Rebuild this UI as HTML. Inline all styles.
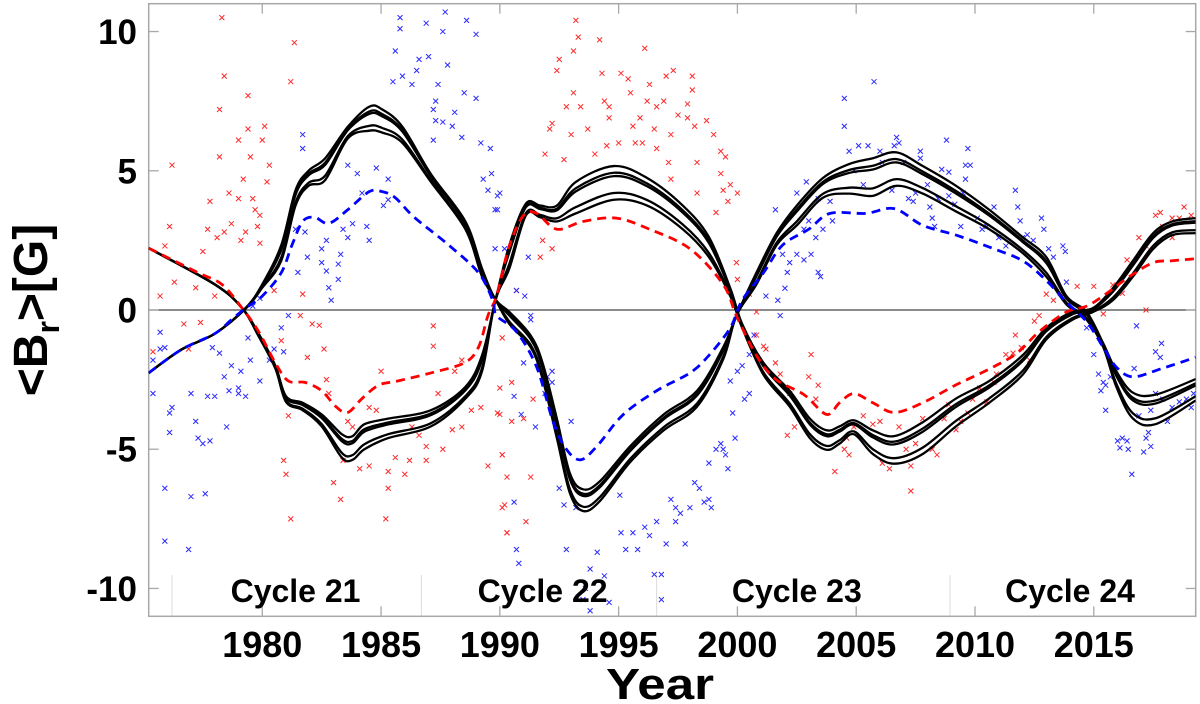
<!DOCTYPE html>
<html><head><meta charset="utf-8"><style>
html,body{margin:0;padding:0;background:#fff;width:1200px;height:704px;overflow:hidden}
svg{display:block}
text{font-family:"Liberation Sans",Arial,sans-serif;font-weight:bold;fill:#000}
</style></head><body>
<svg id="chart" width="1200" height="704" viewBox="0 0 1200 704">
  <defs><clipPath id="plotclip"><rect x="148.7" y="3.7" width="1047" height="612.6"/></clipPath></defs>
  <g id="seps"></g>
  <g id="grid"></g>
  <g id="scatter" clip-path="url(#plotclip)"></g>
  <g id="lines" clip-path="url(#plotclip)"></g>
  <g id="labels"></g>
  <text x="660" y="699" font-size="44" text-anchor="middle" textLength="108" lengthAdjust="spacingAndGlyphs">Year</text>
  <text transform="translate(47,310) rotate(-90)" font-size="48" text-anchor="middle">&lt;B<tspan font-size="32" dy="12">r</tspan><tspan dy="-12">&gt;[G]</tspan></text>
</svg>
<script>
const xTicks=[1980,1985,1990,1995,2000,2005,2010,2015];
const yTicks=[10,5,0,-5,-10];
const cycleNames=["Cycle 21","Cycle 22","Cycle 23","Cycle 24"];
const cycleCenters=[1981.4,1991.8,2002.5,2014.0];
const cycleBounds=[1976.2,1986.7,1996.6,2008.95];
const redDash=[[1975.22,2.22],[1977.3,1.34],[1978.3,0.92],[1979.15,0.07],[1979.85,-0.78],[1980.55,-1.9],[1981.1,-2.55],[1981.8,-2.6],[1982.5,-2.9],[1983.1,-3.47],[1983.6,-3.68],[1984.2,-3.18],[1984.9,-2.7],[1985.7,-2.55],[1987.1,-2.26],[1988.5,-1.9],[1989.1,-1.34],[1989.5,-0.2],[1989.86,0.5],[1990.4,2.3],[1991.0,3.4],[1991.55,3.47],[1992.4,2.9],[1993.5,3.18],[1994.9,3.3],[1996.3,2.9],[1998.0,2.2],[1999.4,0.92],[1999.96,-0.21],[2000.8,-1.63],[2001.6,-2.48],[2002.8,-3.04],[2003.75,-3.75],[2004.3,-3.33],[2004.9,-3.0],[2005.7,-3.33],[2006.6,-3.68],[2007.8,-3.33],[2009.2,-2.69],[2010.6,-2.12],[2011.75,-1.56],[2012.7,-0.78],[2013.85,-0.07],[2014.7,0.14],[2015.5,0.57],[2016.5,1.2],[2017.5,1.7],[2018.3,1.77],[2019.29,1.84]];
const blueDash=[[1975.22,-2.26],[1976.6,-1.42],[1978.0,-0.85],[1978.7,-0.35],[1979.3,0.07],[1980.0,0.5],[1980.8,1.34],[1981.25,2.33],[1981.7,3.18],[1982.2,3.33],[1982.8,3.11],[1983.6,3.6],[1984.5,4.25],[1985.05,4.25],[1985.6,4.03],[1986.4,3.33],[1987.85,2.33],[1989.1,1.34],[1989.7,0.35],[1989.86,-0.2],[1990.7,-0.78],[1991.55,-2.05],[1992.25,-4.03],[1992.8,-5.0],[1993.4,-5.38],[1994.1,-4.88],[1995.2,-3.75],[1996.6,-2.9],[1998.0,-2.26],[1998.8,-1.63],[1999.7,-0.64],[2000.2,0.35],[2001.1,1.34],[2001.9,2.33],[2003.0,2.9],[2003.9,3.47],[2005.4,3.47],[2006.6,3.64],[2007.8,3.04],[2009.2,2.69],[2010.6,2.26],[2012.0,1.77],[2013.0,1.06],[2013.85,0.28],[2014.7,-0.42],[2015.4,-1.34],[2015.95,-2.05],[2016.65,-2.4],[2017.8,-2.12],[2019.29,-1.7]];
const famA=[[1975.22,-2.26,-2.26],[1976.6,-1.42,-1.42],[1978.0,-0.85,-0.85],[1979.3,0.07,0.05],[1980.0,0.92,0.8],[1980.8,2.33,1.77],[1981.4,4.3,3.75],[1981.95,5.0,4.46],[1982.65,5.45,4.67],[1983.6,6.58,6.16],[1984.5,7.3,6.44],[1985.05,7.2,6.37],[1985.9,6.58,6.0],[1987.1,4.88,4.6],[1988.55,3.18,2.9],[1989.25,1.49,1.2],[1989.8,0.4,0.4],[1990.4,-0.07,-0.5],[1991.3,-0.92,-1.34],[1991.8,-1.9,-2.48],[1992.4,-3.9,-4.6],[1992.95,-5.87,-6.58],[1993.5,-6.44,-7.22],[1994.2,-6.16,-6.87],[1995.5,-4.88,-5.45],[1996.9,-3.75,-4.32],[1998.3,-2.9,-3.47],[1999.4,-1.34,-1.77],[1999.96,-0.2,-0.2],[2000.8,1.34,0.92],[2001.65,2.76,2.33],[2002.5,3.75,3.04],[2003.6,4.74,4.03],[2004.7,5.24,4.18],[2005.7,5.45,4.1],[2006.7,5.66,4.46],[2007.8,5.17,4.18],[2009.2,4.46,3.54],[2010.6,3.6,2.9],[2012.0,2.62,2.05],[2013.0,1.9,1.2],[2013.85,0.5,0.2],[2014.7,-0.07,-0.35],[2015.4,-1.2,-1.34],[2015.95,-2.2,-2.76],[2016.65,-2.97,-3.9],[2017.6,-3.04,-4.1],[2019.29,-2.48,-3.25]];
const famB=[[1975.22,2.22,2.22],[1978.0,0.92,0.92],[1979.15,0.07,0.07],[1979.85,-0.85,-0.95],[1980.55,-2.0,-2.1],[1981.0,-3.1,-3.3],[1981.7,-3.33,-3.6],[1982.5,-3.75,-4.18],[1983.35,-4.46,-5.3],[1983.8,-4.53,-5.38],[1984.3,-4.1,-5.0],[1985.3,-3.9,-4.6],[1987.1,-3.6,-4.18],[1988.55,-2.76,-3.18],[1989.25,-1.63,-2.2],[1989.8,0.3,0.3],[1990.4,2.33,1.49],[1991.1,3.82,3.4],[1991.7,3.75,3.33],[1992.4,3.75,3.18],[1993.2,4.6,3.47],[1994.8,5.17,3.96],[1996.2,4.74,3.75],[1997.7,3.75,2.9],[1998.8,2.62,1.9],[1999.7,0.78,0.5],[2000.2,-0.5,-0.64],[2001.1,-1.9,-2.33],[2002.2,-2.9,-3.47],[2003.05,-3.9,-4.6],[2003.75,-4.32,-5.02],[2004.3,-4.18,-4.8],[2004.9,-3.96,-4.46],[2005.7,-4.32,-5.17],[2006.6,-4.53,-5.52],[2007.8,-4.03,-5.17],[2009.2,-3.18,-4.18],[2010.6,-2.55,-3.33],[2012.0,-1.63,-2.33],[2013.0,-0.64,-1.06],[2014.1,-0.07,-0.35],[2014.97,0.07,-0.07],[2015.8,0.78,0.35],[2016.65,1.77,1.2],[2017.5,2.76,2.19],[2018.3,3.18,2.69],[2019.29,3.3,2.76]];
const memberWeights=[0,0.2,0.3,0.8,1];
const redPts=[[1978.3,10.5],[1978.4,8.4],[1981.35,9.6],[1981.2,8.2],[1978.2,7.2],[1979.4,7.7],[1979.4,6.5],[1980.1,6.6],[1979,6.1],[1980,6.1],[1978.2,5.5],[1979.5,5.5],[1980.3,5.2],[1976.2,5.2],[1979.2,4.7],[1980.2,4.6],[1978.6,4.2],[1979,4.0],[1979.6,4.0],[1977.8,3.9],[1979.7,3.6],[1979.9,3.4],[1978.7,3.1],[1976.1,3.0],[1978.4,2.8],[1977.7,2.9],[1979.3,2.8],[1979.8,3.0],[1978.1,2.6],[1979.1,2.5],[1979.9,2.4],[1975.9,2.3],[1977.5,2.1],[1976.3,1.0],[1975.7,0.5],[1976.7,-0.5],[1977.4,-0.45],[1975.4,-1.5],[1976.9,-1.4],[1978,0.5],[1977.2,0.8],[1980.5,0.7],[1981.7,0.57],[1981.6,-0.2],[1982.1,-0.5],[1982.4,-0.55],[1982.6,-1.4],[1981.9,-1.7],[1980.8,-1.1],[1981.1,-3.8],[1982.7,-2.5],[1982.8,-3.0],[1983.6,-4.0],[1983.8,-4.2],[1984.5,-3.5],[1984.8,-3.6],[1985.0,-2.2],[1980.9,-5.4],[1981,-5.9],[1983,-6.2],[1983.3,-6.8],[1981.2,-7.5],[1985.2,-7.5],[1983.4,-5.4],[1984.1,-5.7],[1984.5,-5.6],[1985.3,-5.8],[1985.6,-5.3],[1986,-5.9],[1986.2,-5.4],[1985.3,-6.4],[1986.9,-5.4],[1987.2,-1.3],[1987.2,-0.57],[1987.4,-3.0],[1987.6,-5.0],[1988,-4.3],[1988.4,-4.2],[1988.8,-3.6],[1989.2,-3.5],[1989.5,-5.6],[1989.9,-3.7],[1990.1,-5.2],[1990.2,-7.0],[1990.3,-8.0],[1988.1,-2.2],[1988.4,-1.8],[1986.3,-4.2],[1986.6,-4.5],[1986.9,-4.9],
[1993.2,10.4],[1993.3,9.8],[1994.2,9.7],[1993.1,9.3],[1996.1,9.4],[1992.5,9.0],[1992.4,8.6],[1994.3,8.5],[1995.1,8.5],[1995.4,8.3],[1997.3,8.6],[1997,8.4],[1998.1,8.4],[1996.3,8.1],[1998.1,7.9],[1993.1,7.8],[1995.5,7.8],[1994.4,7.5],[1992.8,7.3],[1993.4,7.3],[1994.6,7.3],[1996.2,7.5],[1996.6,7.3],[1996.9,7.5],[1997.9,7.4],[1997.5,7.0],[1995.9,6.9],[1994.6,6.9],[1993.7,6.5],[1995.6,6.6],[1996.5,6.5],[1997.9,6.9],[1998.7,6.8],[1998.2,6.6],[1992.2,6.7],[1997.2,6.3],[1993,6.3],[1999,6.3],[1992.1,6.5],[1991.9,5.6],[1994,5.6],[1994.5,5.9],[1995,6.0],[1995.7,6.0],[1996,6.0],[1996.6,5.8],[1992.7,5.4],[1997.1,5.3],[1998.3,5.3],[1999.3,5.7],[1999.5,5.5],[1999.3,4.9],[1997.2,4.7],[1998.3,4.2],[1999.4,4.3],[1999.7,4.5],[2000,4.2],[1999.1,3.5],[1999.6,3.9],[1991.8,2.5],[1991.7,1.9],[1992.2,2.2],[1999.96,1.7],[2000,1.1],[2000.5,0.57],[1990.1,-1.0],[1990,-2.8],[1990.5,-2.6],[1990,-3.75],[1990.5,-4.0],[1991,-3.9],[1991.4,-3.2],[1990.1,-5.2],[1990.3,-6.0],[1991.3,-6.0],[1990.1,-7.1],[1991.1,-7.6],[1990.3,-8.0],[1990.7,0.7],[2000.8,-0.07],[2000.8,-0.9],[2001.1,-1.3],[2001.2,-1.4],[2000.9,-1.8],[2001.6,-1.9],[2001.8,-2.3],[2002.2,-3.0],[2003,-2.4],[2003.1,-1.6],[2003.4,-2.7],[2003.3,-3.2],[2002.1,-4.5],[2002.4,-4.2],[2004.1,-5.8],[2004.6,-4.6],[2004.7,-5.2],
[2004.9,-4.2],[2005.3,-3.8],[2005.7,-4.1],[2006,-4.0],[2004.5,-5.0],[2006.1,-5.5],[2006.4,-5.7],[2006.8,-4.2],[2007.1,-5.0],[2007.3,-5.6],[2007.3,-6.5],[2007.5,-4.8],[2007.8,-3.9],[2008.2,-5.0],[2008.4,-5.2],[2008.7,-3.9],[2008.9,-3.4],[2009.2,-4.3],[2009.4,-4.0],[2009.7,-3.7],[2009.9,-3.2],[2010.2,-2.8],[2010.5,-3.3],[2010.8,-2.6],[2010.9,-2.3],[2011.3,-1.6],[2011.6,-1.55],[2011.7,-0.9],[2011.95,-1.35],[2012.3,-1.8],[2012.5,-0.4],[2012.7,-0.2],[2013,0.57],[2013.3,0.35],[2013.6,0.6],[2014.3,0.85],[2015,0.85],[2015.4,-0.14],[2015.8,0.9],[2016.2,0.6],[2016.4,1.8],[2016.9,2.6],[2017.2,0],[2017.6,3.4],[2017.8,3.5],[2018.3,3.3],[2018.6,3.3],[2018.8,3.7],[2019.1,3.4],[2018.3,2.6],[2017.9,3.0],[2017.2,2.3]];
const bluePts=[[1985.8,10.5],[1985.8,10.1],[1987.7,10.7],[1986.9,10.3],[1988.6,10.4],[1987.6,10.0],[1989,9.9],[1985.6,9.3],[1986.6,9.0],[1987,9.1],[1987.8,8.8],[1985.9,8.4],[1985.5,8.2],[1986.3,8.1],[1986.5,8.6],[1987.4,8.1],[1988.5,7.8],[1987.3,7.5],[1989,7.6],[1987.2,7.2],[1988.1,7.1],[1987.3,6.8],[1987.6,6.75],[1988,6.6],[1988.4,6.2],[1987.2,6.1],[1989.2,6.0],[1989.6,5.8],[1981.7,6.3],[1981.7,5.8],[1983.6,5.2],[1984,4.9],[1984.8,5.1],[1985.3,4.7],[1989.3,4.7],[1989.5,4.3],[1990,4.2],[1989.9,3.6],[1984.2,4.2],[1985.1,3.75],[1985.3,3.96],[1981.4,2.9],[1981.8,2.8],[1982.7,2.5],[1983.4,2.9],[1983.8,3.1],[1984.4,3.0],[1984.5,2.5],[1983.6,2.6],[1981.9,1.9],[1982.5,1.7],[1983.3,2.0],[1983.2,1.65],[1982.7,1.4],[1983.2,1.1],[1982.8,0.8],[1982.9,0.35],[1981.5,1.35],[1982.5,2.2],[1979.9,0.42],[1979.6,0.14],[1981.1,-0.2],[1980.8,-0.64],[1980.9,-1.5],[1980.5,-1.4],[1980.3,-1.8],[1979.4,-1.0],[1979.5,-1.8],[1979.1,-2.2],[1978.7,-2.0],[1978.2,-1.55],[1977.9,-1.35],[1979,-2.8],[1979,-3.0],[1979.3,-3.1],[1978.6,-2.9],[1978.4,-2.4],[1979.9,-2.55],[1975.7,-0.8],[1975.7,-1.4],[1975.9,-1.35],[1975.4,-1.8],[1975.4,-3.0],[1977,-3.0],[1977.7,-3.1],[1978,-3.1],[1978.5,-4.2],[1976.2,-3.5],[1976.1,-3.7],[1976.1,-4.4],[1977.2,-4.0],[1977.3,-4.6],[1977.5,-4.8],[1977.8,-4.7],[1975.9,-6.4],[1977,-6.7],[1977.6,-6.6],[1975.9,-8.3],[1976.9,-8.6],
[1989.65,4.9],[1989.9,4.1],[1989.8,3.6],[1989.8,2.2],[1990.2,2.2],[1991.2,1.9],[1990.7,0.7],[1991.05,0.5],[1991.3,-0.2],[1991.3,-0.35],[1991,-1.9],[1992.2,-2.2],[1992,-2.4],[1992.2,-2.6],[1990.6,-3.1],[1990.9,-3.75],[1991.5,-4.2],[1991.9,-3.0],[1993,-4.0],[1992.5,-6.4],[1992.7,-7.0],[1993.2,-7.1],[1995.05,-6.65],[1992.8,-8.6],[1990.7,-8.6],[1990.8,-9.1],[1990.6,-6.9],[1994.1,-8.7],[1993.8,-9.3],[1994.4,-9.55],[1993.6,-10],[1993.5,-10.4],[1994.6,-10.5],[1993.8,-10.8],[1995.1,-8.0],[1995.3,-8.6],[1995.6,-8.0],[1995.8,-8.6],[1996.1,-7.8],[1996.3,-8.1],[1996.6,-7.6],[1997,-8.4],[1996.5,-9.5],[1996.8,-9.5],[1996.8,-10.4],[1997.2,-6.8],[1997.4,-7.1],[1997.6,-7.3],[1998,-7.1],[1997.4,-7.6],[1997.8,-8.4],[1998.2,-6.2],[1998.4,-6.4],[1998.6,-6.9],[1998.8,-6.8],[1998.9,-7.1],[1998.8,-5.5],[1999.1,-5.0],[1999.4,-5.0],[1999.5,-5.2],[1999.6,-5.7],[1999.9,-4.6],[1999.3,-4.8],[1999.8,-3.7],[2000.5,-3.0],[2000.3,-3.2],[1999.7,-2.55],[2000,-2.2],[2000.2,-2.0],[2000.5,-1.6],[2000.7,-0.9],[2001.2,0.5],[2001.8,-0.2],[2001.7,0.35],[2002,0.78],[2001.9,2.0],[2002.2,1.7],[2002.1,1.35],[2002.5,2.0],[2002.8,1.8],[2003.1,2.0],[2003.4,1.35],[2003.5,1.2],[2003.3,2.6],[2002.8,2.9],[2003,3.2],[2003.6,2.9],[2004,3.2],[2003.9,3.9],[2003.4,4.0],[2002.5,4.2],[2002.9,4.6],[2001.6,3.6],[2004.5,7.6],[2004.5,6.6],[2004.7,5.7],
[2005.75,8.2],[2004.9,5.0],[2005.1,5.9],[2005.5,5.9],[2005.3,4.5],[2006,5.7],[2006.1,5.3],[2006.6,5.9],[2006.7,6.2],[2006.8,6.0],[2006.5,4.3],[2007,5.3],[2007.2,4.0],[2007.4,3.9],[2007.5,4.2],[2007.7,5.7],[2007.7,5.45],[2008,4.5],[2008.1,3.7],[2008.3,3.0],[2008.2,3.3],[2008.45,4.0],[2008.6,5.05],[2008.8,6.1],[2008.9,4.95],[2008.9,4.1],[2009.15,3.8],[2009.4,3.0],[2009.5,4.2],[2009.6,5.2],[2009.7,5.8],[2009.6,4.7],[2009.8,5.2],[2010.1,3.3],[2010.3,2.9],[2010.5,3.0],[2010.8,3.7],[2011,2.6],[2011.3,2.3],[2011.7,4.3],[2011.8,3.7],[2011.9,3.2],[2012,2.6],[2012.2,2.7],[2012.45,2.5],[2012.8,3.3],[2012.9,2.9],[2013.1,2.2],[2013.3,1.9],[2013.7,2.3],[2013.8,2.1],[2013.85,1.0],[2014.3,-0.07],[2014.6,-0.07],[2014.7,-0.64],[2015,-1.6],[2015.2,-2.3],[2015.4,-2.6],[2015.5,-2.7],[2015.3,-2.9],[2015.7,-2.4],[2015.5,-3.6],[2016,-4.7],[2016.2,-4.6],[2016.4,-4.7],[2016.1,-4.95],[2016.45,-5.0],[2016.6,-5.9],[2016.8,-0.57],[2016.7,-2.1],[2017.1,-5.1],[2017.2,-4.6],[2017.4,-4.9],[2017.3,-4.4],[2017.6,-1.5],[2017.85,-1.2],[2017.8,-1.7],[2017.9,-3.2],[2018.1,-4.0],[2018.3,-3.5],[2018.6,-3.3],[2018.9,-3.2],[2019.2,-3.0],[2019.1,-3.5],[2017.6,-3.0],[2016.9,-3.8],[2017.4,-3.6]];

const NS='http://www.w3.org/2000/svg';
const X0=148.7,X1=1195.7,Y0=3.7,Y1=616.3,YR0=1975.22,YR1=2019.29,VMAX=11,VMIN=-11;
function sx(yr){return X0+(yr-YR0)/(YR1-YR0)*(X1-X0);}
function sy(v){return Y1-(v-VMIN)/(VMAX-VMIN)*(Y1-Y0);}
function mk(tag,attrs,parent){const e=document.createElementNS(NS,tag);for(const k in attrs)e.setAttribute(k,attrs[k]);parent.appendChild(e);return e;}
function smooth(pts){
  let d='M'+pts[0][0].toFixed(2)+','+pts[0][1].toFixed(2);
  for(let i=0;i<pts.length-1;i++){
    const p0=pts[Math.max(0,i-1)],p1=pts[i],p2=pts[i+1],p3=pts[Math.min(pts.length-1,i+2)];
    const c1x=p1[0]+(p2[0]-p0[0])/6,c1y=p1[1]+(p2[1]-p0[1])/6;
    const c2x=p2[0]-(p3[0]-p1[0])/6,c2y=p2[1]-(p3[1]-p1[1])/6;
    d+='C'+c1x.toFixed(2)+','+c1y.toFixed(2)+' '+c2x.toFixed(2)+','+c2y.toFixed(2)+' '+p2[0].toFixed(2)+','+p2[1].toFixed(2);
  }
  return d;
}
const seps=document.getElementById('seps'),grid=document.getElementById('grid'),sc=document.getElementById('scatter'),ln=document.getElementById('lines'),lb=document.getElementById('labels');
cycleBounds.forEach(b=>{
  const l=mk('line',{x1:sx(b),x2:sx(b),y1:575,y2:Y1,stroke:'#dcdcdc','stroke-width':1},seps);
  
  
});
const frame=mk('rect',{x:X0,y:Y0,width:X1-X0,height:Y1-Y0,fill:'none',stroke:'#a8a8a8','stroke-width':1.5},grid);


const zl=mk('line',{x1:X0,x2:X1,y1:sy(0),y2:sy(0),stroke:'#444','stroke-width':1.3},grid);


xTicks.forEach(t=>{
  const x=sx(t);
  mk('line',{x1:x,x2:x,y1:Y1,y2:Y1-10,stroke:'#a8a8a8','stroke-width':1.3},grid);
  mk('line',{x1:x,x2:x,y1:Y0,y2:Y0+10,stroke:'#a8a8a8','stroke-width':1.3},grid);
  const tx=mk('text',{x:x,y:657,'font-size':36,'text-anchor':'middle'},lb);
  tx.textContent=t;
  
  
});
yTicks.forEach(t=>{
  const y=sy(t);
  mk('line',{x1:X0,x2:X0+10,y1:y,y2:y,stroke:'#a8a8a8','stroke-width':1.3},grid);
  mk('line',{x1:X1,x2:X1-10,y1:y,y2:y,stroke:'#a8a8a8','stroke-width':1.3},grid);
  const tx=mk('text',{x:137,y:y+12.5,'font-size':35,'text-anchor':'end'},lb);
  tx.textContent=t;
  
  
});
cycleNames.forEach((n,i)=>{
  const tx=mk('text',{x:sx(cycleCenters[i]),y:602,'font-size':32,'text-anchor':'middle'},lb);
  tx.textContent=n;
  
  
});
function cross(p,col,name){
  const x=sx(p[0]),y=sy(p[1]),s=2.5;
  const path=mk('path',{d:`M${x-s},${y-s}L${x+s},${y+s}M${x-s},${y+s}L${x+s},${y-s}`,stroke:col,'stroke-width':1,fill:'none'},sc);
  
  
}
redPts.forEach(p=>cross(p,'#ff2a2a','red-observation'));
bluePts.forEach(p=>cross(p,'#2a2aff','blue-observation'));
function family(arr,name){
  memberWeights.forEach(w=>{
    const pts=arr.map(r=>[sx(r[0]),sy(r[1]+(r[2]-r[1])*w)]);
    const p=mk('path',{d:smooth(pts),fill:'none',stroke:'#000','stroke-width':2.3},ln);
    
    
  });
}
family(famA,'model-curve-north');
family(famB,'model-curve-south');
const rd=mk('path',{d:smooth(redDash.map(p=>[sx(p[0]),sy(p[1])])),fill:'none',stroke:'#f00','stroke-width':2.8,'stroke-dasharray':'9,6'},ln);


const bd=mk('path',{d:smooth(blueDash.map(p=>[sx(p[0]),sy(p[1])])),fill:'none',stroke:'#00f','stroke-width':2.8,'stroke-dasharray':'9,6'},ln);


</script>
</body></html>
